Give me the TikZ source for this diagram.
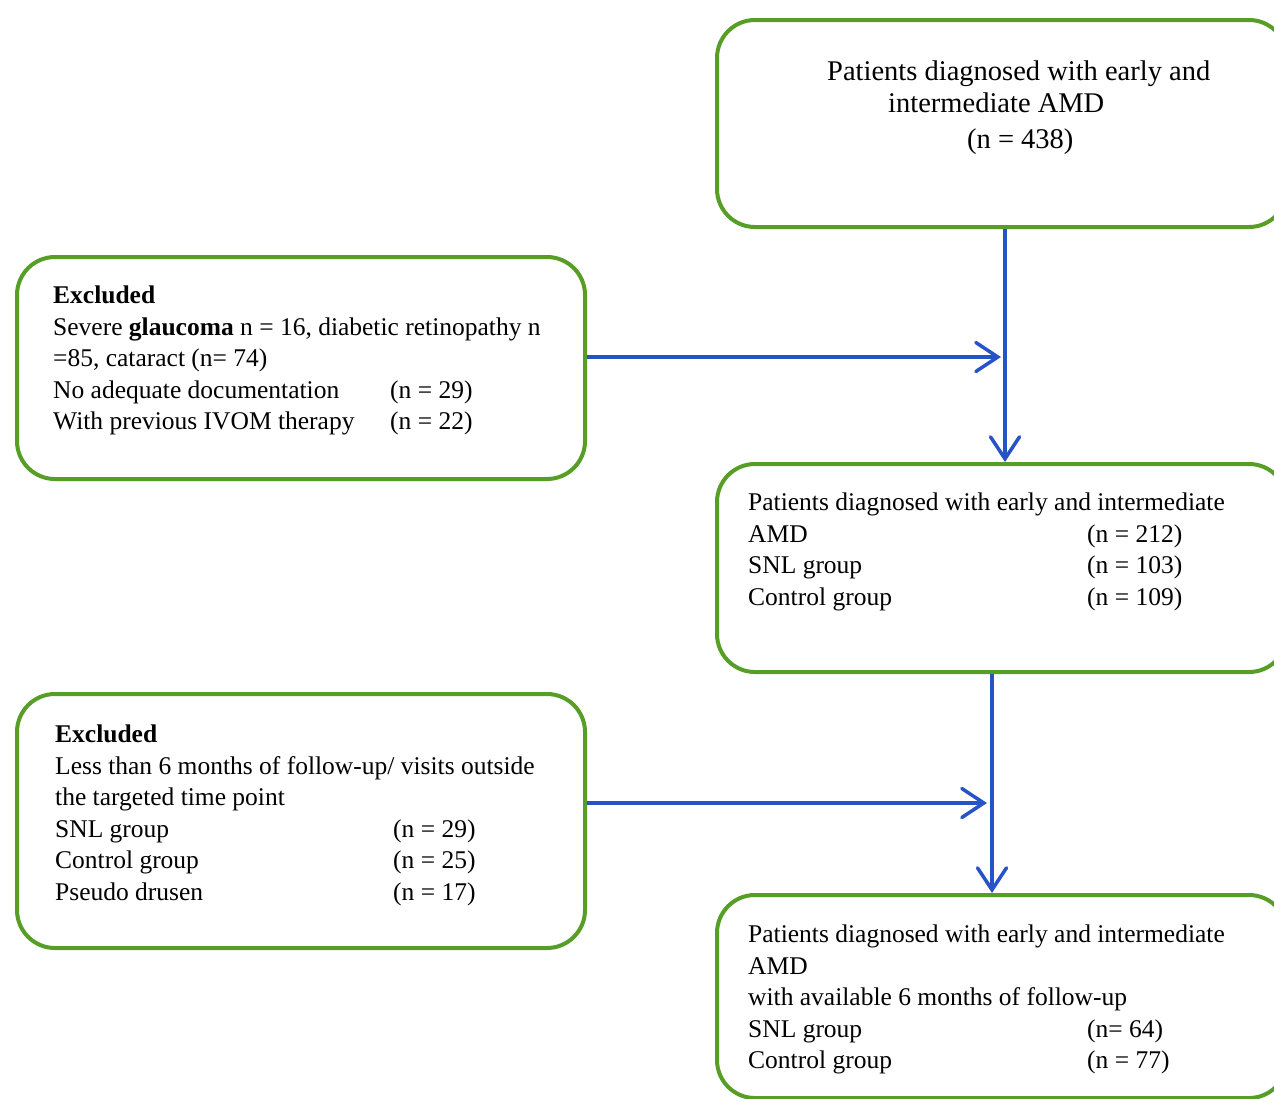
\documentclass[tikz,border=0pt]{standalone}
\usepackage{fontspec}
\setmainfont{Liberation Serif}
\usetikzlibrary{arrows.meta}
\definecolor{boxgreen}{RGB}{86,158,38}
\definecolor{arrblue}{RGB}{38,84,200}
\begin{document}
\begin{tikzpicture}[x=1pt,y=-1pt,
  box/.style={draw=boxgreen, line width=4pt, rounded corners=38pt, inner sep=0pt, anchor=north west},
  txt/.style={anchor=north west, inner sep=0pt, align=left, font=\fontsize{25.5}{31.5}\selectfont},
  arr/.style={draw=arrblue, line width=3.5pt, -{Straight Barb[length=22pt,width=29pt,line cap=round]}}]
\useasboundingbox (0,0) rectangle (1274,1098);
\fill[white] (0,0) rectangle (1274,1098);
\clip (0,0) rectangle (1274,1098);
% boxes
\node[box, minimum width=570pt, minimum height=207pt] (A) at (715,18) {};
\node[box, minimum width=568pt, minimum height=222pt] (E1) at (15,255) {};
\node[box, minimum width=570pt, minimum height=208pt] (B) at (715,462) {};
\node[box, minimum width=568pt, minimum height=254pt] (E2) at (15,692) {};
\node[box, minimum width=570pt, minimum height=203pt] (C) at (715,893) {};
% texts
\node[txt, font=\fontsize{28.5}{32}\selectfont] (tA) at (827,61) {Patients diagnosed with early and\\
  \hspace*{61pt}intermediate AMD\\[4pt]
  \hspace*{140pt}(n = 438)};
\node[txt] (tE1) at (53,286) {\textbf{Excluded}\\
  Severe \textbf{glaucoma} n = 16, diabetic retinopathy n\\
  =85, cataract (n= 74)\\
  \makebox[337pt][l]{No adequate documentation}(n = 29)\\
  \makebox[337pt][l]{With previous IVOM therapy}(n = 22)};
\node[txt] (tB) at (748,493) {Patients diagnosed with early and intermediate\\
  \makebox[339pt][l]{AMD}(n = 212)\\
  \makebox[339pt][l]{SNL group}(n = 103)\\
  \makebox[339pt][l]{Control group}(n = 109)};
\node[txt] (tE2) at (55,725) {\textbf{Excluded}\\
  Less than 6 months of follow-up/ visits outside\\
  the targeted time point\\
  \makebox[338pt][l]{SNL group}(n = 29)\\
  \makebox[338pt][l]{Control group}(n = 25)\\
  \makebox[338pt][l]{Pseudo drusen}(n = 17)};
\node[txt] (tC) at (748,925) {Patients diagnosed with early and intermediate\\
  AMD\\
  with available 6 months of follow-up\\
  \makebox[339pt][l]{SNL group}(n= 64)\\
  \makebox[339pt][l]{Control group}(n = 77)};
% connectors
\coordinate (j1) at (1001,357);
\coordinate (j2) at (987,803);
\draw[arr] ([xshift=3pt]A.south) -- ([xshift=3pt]B.north);
\draw[arr] (E1.east |- j1) -- (j1);
\draw[arr] ([xshift=-10pt]B.south) -- ([xshift=-10pt]C.north);
\draw[arr] (E2.east |- j2) -- (j2);
\end{tikzpicture}
\end{document}
